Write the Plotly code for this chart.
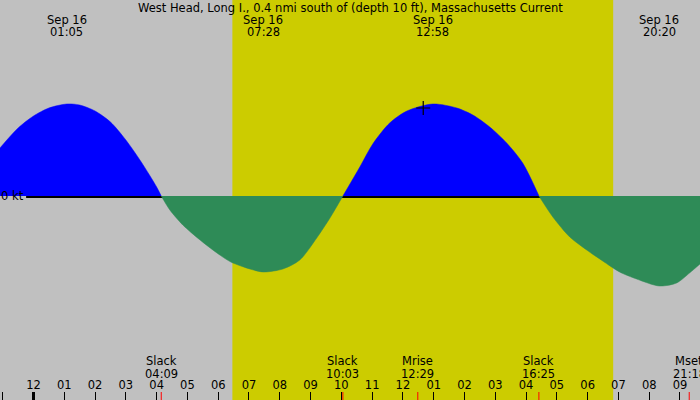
import plotly.graph_objects as go

# hours after midnight, Sep 16 (negative = evening of Sep 15)
times_h = [-1.09, -0.5, 0.0, 0.5, 1.08, 1.5, 2.0, 2.5, 3.0, 3.5, 4.0, 4.15,
           4.43, 4.85, 5.41, 5.96, 6.41, 7.03, 7.47, 8.10, 8.65, 9.20, 9.63, 10.05,
           10.60, 11.02, 11.57, 12.13, 12.97, 13.75, 14.27, 14.82, 15.37, 15.89, 16.42,
           16.87, 17.42, 17.97, 18.49, 19.04, 19.59, 20.33, 20.89, 21.31, 21.65]
speed_kt = [0.48, 0.68, 0.80, 0.88, 0.92, 0.91, 0.85, 0.74, 0.56, 0.34, 0.09, 0.0,
            -0.14, -0.29, -0.44, -0.57, -0.66, -0.73, -0.76, -0.73, -0.64, -0.42, -0.22, 0.0,
            0.29, 0.52, 0.73, 0.85, 0.92, 0.88, 0.81, 0.69, 0.53, 0.33, 0.0,
            -0.21, -0.41, -0.54, -0.65, -0.76, -0.83, -0.90, -0.87, -0.77, -0.68]

# max current labels at the top
peak_times = [1.083, 7.467, 12.967, 20.333]
peak_labels = ["01:05", "07:28", "12:58", "20:20"]

# events along the bottom
event_times = [4.15, 10.05, 12.483, 16.417, 21.30]
event_names = ["Slack", "Slack", "Mrise", "Slack", "Mset"]
event_labels = ["04:09", "10:03", "12:29", "16:25", "21:18"]

sunrise_h = 6.46
sunset_h = 18.83
now_h, now_kt = 12.66, 0.88

hour_ticks = list(range(-1, 22))
hour_labels = ["11", "12", "01", "02", "03", "04", "05", "06", "07", "08", "09", "10",
               "11", "12", "01", "02", "03", "04", "05", "06", "07", "08", "09"]

X_RANGE = [-1.088, 21.65]
Y_RANGE = [-2.04, 1.96]
FONT = dict(family="DejaVu Sans", size=11.5, color="black")
GRAY = "#c0c0c0"
YELLOW = "#cccc00"
BLUE = "#0000ff"
GREEN = "#2e8b57"

fig = go.Figure()

# split the series into flood / ebb pieces at the slack points
segments = []
cur_t, cur_v = [], []
for t, v in zip(times_h, speed_kt):
    cur_t.append(t)
    cur_v.append(v)
    if v == 0 and len(cur_t) > 1:
        segments.append((cur_t, cur_v))
        cur_t, cur_v = [t], [v]
if len(cur_t) > 1:
    segments.append((cur_t, cur_v))

for seg_t, seg_v in segments:
    flood = sum(seg_v) > 0
    col = BLUE if flood else GREEN
    fig.add_trace(go.Scatter(
        x=seg_t, y=seg_v, mode="lines",
        line=dict(color=col, width=0.5, shape="spline", smoothing=0.8),
        fill="tozeroy", fillcolor=col, hoverinfo="skip", showlegend=False))

fig.add_trace(go.Scatter(
    x=[now_h], y=[now_kt], mode="markers",
    marker=dict(symbol="cross-thin", size=10, line=dict(color="black", width=1.2)),
    showlegend=False, hoverinfo="skip"))

shapes = [
    dict(type="rect", xref="x", yref="paper", x0=sunrise_h, x1=sunset_h, y0=0, y1=1,
         fillcolor=YELLOW, line_width=0, layer="below"),
    # zero line sits just under the axis so the ebb fill hides it
    dict(type="line", xref="x", yref="y", x0=-0.24, x1=X_RANGE[1], y0=-0.01, y1=-0.01,
         line=dict(color="black", width=2), layer="below"),
    dict(type="line", xref="x", yref="paper", x0=0, x1=0, y0=0, y1=0.02,
         line=dict(color="black", width=3)),
]
for t in event_times:
    shapes.append(dict(type="line", xref="x", yref="paper", x0=t, x1=t, y0=0, y1=0.02,
                       line=dict(color="red", width=1)))

def label(text, x, y, xref="x", yref="paper", **kw):
    return dict(text=text, xref=xref, yref=yref, x=x, y=y, yanchor="middle",
                showarrow=False, font=FONT, borderpad=0, **kw)

annotations = [
    label("West Head, Long I., 0.4 nmi south of (depth 10 ft), Massachusetts Current",
          0.5, 1 - 8 / 400, xref="paper"),
    label("0 kt", 0, 0, xref="paper", yref="y", xanchor="left"),
]
for t, lab in zip(peak_times, peak_labels):
    annotations.append(label("Sep 16", t, 1 - 20 / 400))
    annotations.append(label(lab, t, 1 - 32 / 400))
for t, name, lab in zip(event_times, event_names, event_labels):
    annotations.append(label(name, t, 1 - 361 / 400))
    annotations.append(label(lab, t, 1 - 374 / 400))

fig.update_layout(
    width=700, height=400,
    margin=dict(l=0, r=0, t=0, b=0),
    paper_bgcolor=GRAY, plot_bgcolor=GRAY,
    font=FONT,
    shapes=shapes,
    annotations=annotations,
    xaxis=dict(range=X_RANGE, tickvals=hour_ticks, ticktext=hour_labels,
               ticks="inside", ticklen=8, tickwidth=1, tickcolor="black",
               tickfont=FONT, ticklabelposition="inside", showgrid=False,
               zeroline=False, showline=False, fixedrange=True),
    yaxis=dict(range=Y_RANGE, visible=False, showgrid=False, zeroline=False,
               fixedrange=True),
)

fig.write_html("out.html", config={"displayModeBar": False},
               post_script="document.body.style.margin='0';")
